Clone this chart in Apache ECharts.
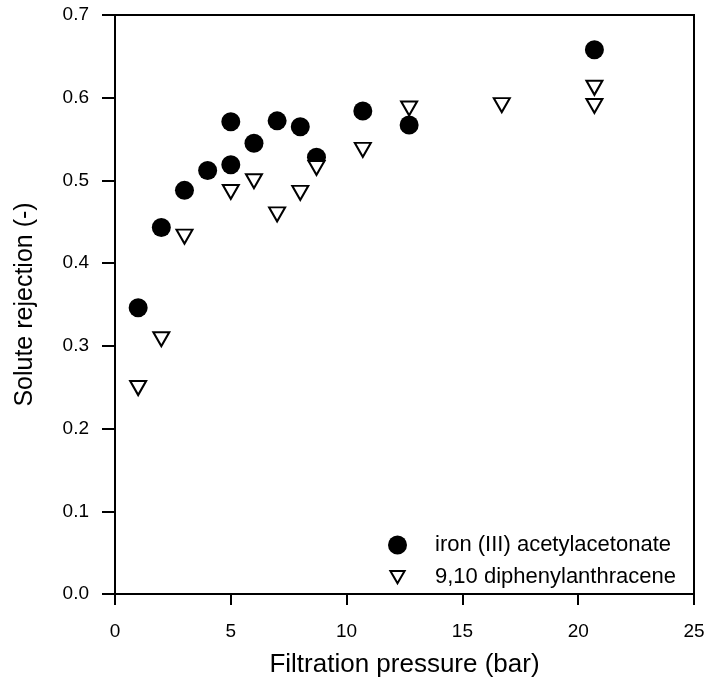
<!DOCTYPE html>
<html>
<head>
<meta charset="utf-8">
<script src="https://cdn.jsdelivr.net/npm/echarts@6/dist/echarts.min.js"></script>
<style>html,body{margin:0;padding:0;background:#fff}#c{width:708px;height:688px}</style>
</head>
<body>
<div id="c"></div>
<script>
var ironPressure = [1, 2, 3, 4, 5, 5, 6, 7, 8, 8.7, 10.7, 12.7, 20.7];
var ironRejection = [0.346, 0.443, 0.488, 0.512, 0.571, 0.519, 0.545, 0.572, 0.565, 0.528, 0.584, 0.567, 0.658];
var dpaPressure = [1, 2, 3, 5, 6, 7, 8, 8.7, 10.7, 12.7, 16.7, 20.7, 20.7];
var dpaRejection = [0.249, 0.308, 0.432, 0.486, 0.499, 0.459, 0.485, 0.515, 0.537, 0.587, 0.591, 0.612, 0.590];
var seriesNames = ['iron (III) acetylacetonate', '9,10 diphenylanthracene'];
var xTicks = [0, 5, 10, 15, 20, 25];
var yTicks = [0.0, 0.1, 0.2, 0.3, 0.4, 0.5, 0.6, 0.7];

function pairs(xs, ys) { return xs.map(function (x, i) { return [x, ys[i]]; }); }

var font = 'Liberation Sans, Arial, sans-serif';
var tri = 'path://M0,0 L20,0 L10,17 Z';
var triLegend = 'path://M0,0 L0,0 M19,19 L19,19 M2.4,3.6 L16.6,3.6 L9.5,15.8 Z';
var chart = echarts.init(document.getElementById('c'));
chart.setOption({
  animation: false,
  grid: { left: 115, right: 14, top: 15, bottom: 94, show: true, borderColor: '#000', borderWidth: 2, backgroundColor: 'transparent' },
  legend: {
    orient: 'vertical', left: 382, top: 529, itemGap: 10, itemWidth: 19, itemHeight: 19,
    textStyle: { fontFamily: font, fontSize: 22, lineHeight: 22, color: '#000', padding: [0, 0, 0, 23] },
    data: [{ name: seriesNames[0], icon: 'circle' }, { name: seriesNames[1], icon: triLegend }]
  },
  xAxis: {
    type: 'value', min: xTicks[0], max: xTicks[xTicks.length - 1], interval: 5,
    name: 'Filtration pressure (bar)', nameLocation: 'middle', nameGap: 58,
    nameTextStyle: { fontFamily: font, fontSize: 26, color: '#000' },
    axisLine: { lineStyle: { color: '#000', width: 2 } },
    axisTick: { length: 11, lineStyle: { color: '#000', width: 2 } },
    axisLabel: { fontFamily: font, fontSize: 19, color: '#000', margin: 28 },
    splitLine: { show: false }
  },
  yAxis: {
    type: 'value', min: yTicks[0], max: yTicks[yTicks.length - 1], interval: 0.1,
    name: 'Solute rejection (-)', nameLocation: 'middle', nameGap: 77,
    nameTextStyle: { fontFamily: font, fontSize: 25, color: '#000' },
    axisLine: { lineStyle: { color: '#000', width: 2 } },
    axisTick: { length: 13, lineStyle: { color: '#000', width: 2 } },
    axisLabel: { fontFamily: font, fontSize: 19, color: '#000', margin: 26, formatter: function (v) { return v.toFixed(1); } },
    splitLine: { show: false }
  },
  series: [
    { name: seriesNames[0], type: 'scatter', symbol: 'circle', symbolSize: 19,
      itemStyle: { color: '#000', opacity: 1 }, data: pairs(ironPressure, ironRejection), z: 2 },
    { name: seriesNames[1], type: 'scatter', symbol: tri, symbolSize: [16, 14],
      itemStyle: { color: '#fff', borderColor: '#000', borderWidth: 2, opacity: 1 }, data: pairs(dpaPressure, dpaRejection), z: 3 }
  ]
});
</script>
</body>
</html>
